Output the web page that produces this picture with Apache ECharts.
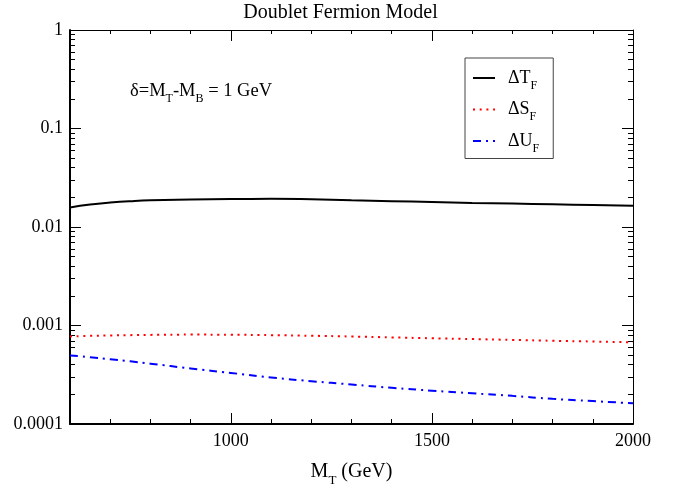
<!DOCTYPE html>
<html lang="en">
<head>
    <meta charset="UTF-8">
    <title>Doublet Fermion Model</title>
    <script src="https://cdn.jsdelivr.net/npm/echarts@6/dist/echarts.min.js"></script>
    <style>
        html, body { margin: 0; padding: 0; background: #fff; }
        #chart { width: 681px; height: 491px; }
    </style>
</head>
<body>
    <div id="chart"></div>
    <script>
        // M_T values (GeV)
        const massT = [600, 650, 700, 750, 800, 900, 1000, 1100, 1200, 1300, 1400, 1500, 1600, 1700, 1800, 1900, 2000];
        const deltaT = [0.0158, 0.0169, 0.0177, 0.0183, 0.0187, 0.0190, 0.0192, 0.0193, 0.0191, 0.0187, 0.0183, 0.0179, 0.0175, 0.0173, 0.0170, 0.0167, 0.0164];
        const deltaS = [0.000775, 0.000785, 0.000792, 0.000798, 0.000803, 0.000808, 0.000806, 0.000798, 0.000787, 0.000773, 0.000757, 0.000742, 0.000728, 0.000714, 0.000700, 0.000688, 0.000675];
        const deltaU = [0.000497, 0.000476, 0.000455, 0.000433, 0.000410, 0.000366, 0.000330, 0.000297, 0.000272, 0.000252, 0.000233, 0.000218, 0.000205, 0.000193, 0.000180, 0.000171, 0.000162];

        const seriesNames = ['ΔT', 'ΔS', 'ΔU'];
        const xMajorTicks = [1000, 1500, 2000];

        const FONT = 'Liberation Serif';

        // minor tick positions
        const xMinorTicks = [];
        for (let v = 700; v < 2000; v += 100) {
            if (xMajorTicks.indexOf(v) < 0) xMinorTicks.push(v);
        }
        // log-space positions for y minor ticks (drawn on a linear helper axis)
        const yMinorTicks = [];
        for (let d = -4; d < 0; d++) {
            for (let k = 2; k <= 9; k++) yMinorTicks.push(d + Math.log10(k));
        }

        function pairs(ys) {
            return massT.map((m, i) => [m, ys[i]]);
        }

        const rich = {
            m: { fontFamily: FONT, fontSize: 18.5, fontWeight: 'normal', color: '#000' },
            lm: { fontFamily: FONT, fontSize: 18, fontWeight: 'normal', color: '#000', padding: [0, 0, 0, 8] },
            s: { fontFamily: FONT, fontSize: 12, fontWeight: 'normal', color: '#000', padding: [15, 0, 0, 0] }
        };

        const chart = echarts.init(document.getElementById('chart'), null, { renderer: 'canvas' });

        // helper x axis that only draws tick marks
        function xTicks(pos, vals, len) {
            return {
                type: 'value', position: pos, min: 600, max: 2000,
                splitLine: { show: false },
                axisLine: { show: false, onZero: false },
                axisLabel: { show: false },
                axisTick: { show: true, inside: true, length: len, customValues: vals, lineStyle: { color: '#000', width: 1 } }
            };
        }
        function yHelper(pos) {
            return {
                type: 'value', position: pos, min: -4, max: 0,
                splitLine: { show: false },
                axisLine: { show: false, onZero: false },
                axisLabel: { show: false },
                axisTick: { show: true, inside: true, length: 5, customValues: yMinorTicks, lineStyle: { color: '#000', width: 1 } }
            };
        }

        const option = {
            backgroundColor: '#fff',
            animation: false,
            title: [{
                text: 'Doublet Fermion Model',
                left: 'center', top: -2,
                textStyle: { fontFamily: FONT, fontSize: 20, fontWeight: 'normal', color: '#000' }
            }, {
                text: '{m|δ=M}{s|T}{m|-M}{s|B}{m| = 1 GeV}',
                left: 125, top: 73,
                textStyle: { fontWeight: 'normal', rich: rich }
            }],
            grid: { left: 70, right: 48, top: 30, bottom: 67, containLabel: false, outerBoundsMode: 'none' },
            legend: {
                orient: 'vertical',
                left: 465, top: 58,
                padding: [11, 14, 4, 7],
                itemWidth: 22, itemHeight: 14, itemGap: 9,
                borderColor: '#444', borderWidth: 1,
                itemStyle: { opacity: 0 },
                data: seriesNames,
                formatter: name => '{lm|' + name + '}{s|F}',
                textStyle: { rich: rich }
            },
            xAxis: [{
                type: 'value', position: 'bottom', min: 600, max: 2000,
                splitLine: { show: false },
                axisLine: { show: true, onZero: false, lineStyle: { color: '#000', width: 2 } },
                axisTick: { show: false },
                axisLabel: { show: true, customValues: xMajorTicks, margin: 8, fontFamily: FONT, fontSize: 18, color: '#000', formatter: v => String(v) },
                name: '{m|M}{s|T}{m| (GeV)}',
                nameLocation: 'middle', nameGap: 33,
                nameTextStyle: { rich: { m: { fontFamily: FONT, fontSize: 20, color: '#000' }, s: { fontFamily: FONT, fontSize: 13, color: '#000', padding: [17, 0, 0, 0] } } }
            },
                xTicks('bottom', xMajorTicks, 11),
                xTicks('bottom', xMinorTicks, 5),
                Object.assign(xTicks('top', xMajorTicks, 11), {
                    axisLine: { show: true, onZero: false, lineStyle: { color: '#000', width: 1 } }
                }),
                xTicks('top', xMinorTicks, 4)
            ],
            yAxis: [{
                type: 'log', logBase: 10, position: 'left', min: 0.0001, max: 1,
                splitLine: { show: false },
                axisLine: { show: true, onZero: false, lineStyle: { color: '#000', width: 2 } },
                axisTick: { show: true, inside: true, length: 11, lineStyle: { color: '#000', width: 1 } },
                axisLabel: {
                    margin: 7, fontFamily: FONT, fontSize: 18, color: '#000',
                    formatter: v => String(+(+v).toPrecision(1))
                }
            }, {
                type: 'log', logBase: 10, position: 'right', min: 0.0001, max: 1,
                splitLine: { show: false },
                axisLine: { show: true, onZero: false, lineStyle: { color: '#000', width: 1 } },
                axisTick: { show: true, inside: true, length: 11, lineStyle: { color: '#000', width: 1 } },
                axisLabel: { show: false }
            }, yHelper('left'), yHelper('right')],
            series: [{
                name: seriesNames[0], type: 'line', smooth: true, symbol: 'none',
                data: pairs(deltaT),
                lineStyle: { color: '#000', width: 2, type: 'solid' },
                itemStyle: { color: '#000' }
            }, {
                name: seriesNames[1], type: 'line', smooth: true, symbol: 'none',
                data: pairs(deltaS),
                lineStyle: { color: '#ff0000', width: 2, type: [2, 4.7] },
                itemStyle: { color: '#ff0000' }
            }, {
                name: seriesNames[2], type: 'line', smooth: true, symbol: 'none',
                data: pairs(deltaU),
                lineStyle: { color: '#0000ff', width: 2, type: [8, 5, 2, 5] },
                itemStyle: { color: '#0000ff' }
            }]
        };

        chart.setOption(option);
    </script>
</body>
</html>
